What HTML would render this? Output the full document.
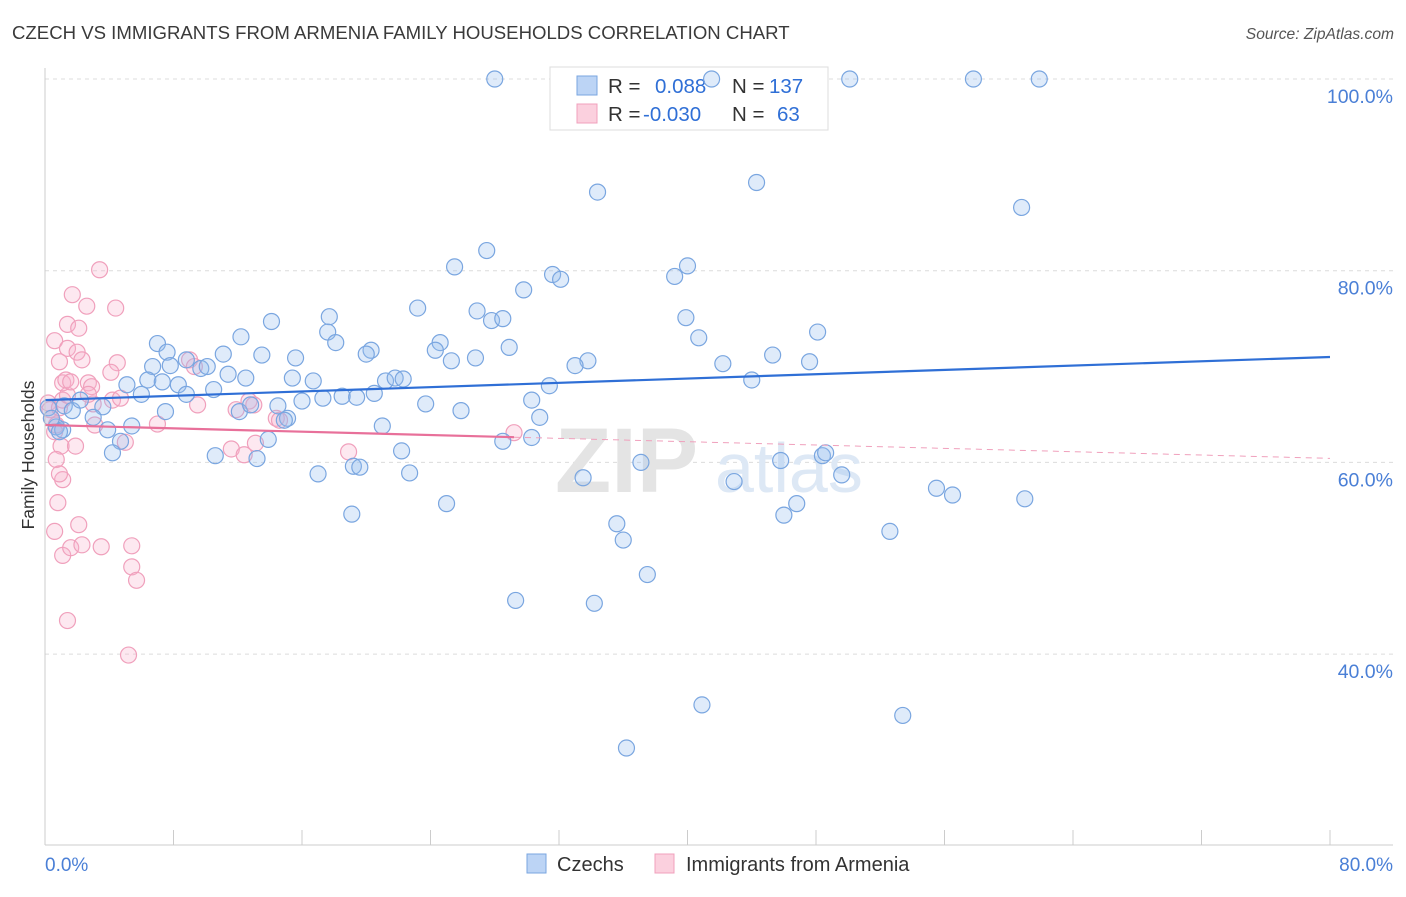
<!DOCTYPE html>
<html><head><meta charset="utf-8">
<style>
body{margin:0;background:#fff;font-family:"Liberation Sans",sans-serif;}
svg text{font-family:"Liberation Sans",sans-serif;}
</style></head>
<body>
<svg id="chart" width="1406" height="892" xmlns="http://www.w3.org/2000/svg">
<text x="12" y="39" font-size="18.6" fill="#3a3a3a">CZECH VS IMMIGRANTS FROM ARMENIA FAMILY HOUSEHOLDS CORRELATION CHART</text>
<text x="1394" y="39" font-size="15.6" fill="#555" font-style="italic" text-anchor="end">Source: ZipAtlas.com</text>
<g id="grid"></g>
<g><text x="555" y="492" font-size="92" fill="#e4e4e4" font-family="Liberation Serif" font-weight="bold">ZIP</text><text x="715" y="492" font-size="70" fill="#dde8f5">atlas</text></g>
<g>
<rect x="550" y="67" width="278" height="63" fill="#fff" stroke="#ddd"/>
<rect x="577" y="76" width="20" height="19" fill="#bcd4f5" stroke="#7aa6e0"/>
<rect x="577" y="104" width="20" height="19" fill="#fbd0de" stroke="#f0a0bc"/>
<text x="608" y="93" font-size="20.5" fill="#333">R = </text><text x="655" y="93" font-size="20.5" fill="#2f6fd6">0.088</text>
<text x="732" y="93" font-size="20.5" fill="#333">N = </text><text x="769" y="93" font-size="20.5" fill="#2f6fd6">137</text>
<text x="608" y="121" font-size="20.5" fill="#333">R = </text><text x="643" y="121" font-size="20.5" fill="#2f6fd6">-0.030</text>
<text x="732" y="121" font-size="20.5" fill="#333">N = </text><text x="777" y="121" font-size="20.5" fill="#2f6fd6">63</text>
</g>
<g id="pts-pink"></g>
<g id="pts-blue"></g>
<g id="lines"></g>
<g id="axes"></g>
<text transform="translate(34,455) rotate(-90)" font-size="17.5" fill="#333" text-anchor="middle">Family Households</text>
<g>
<rect x="527" y="854" width="19" height="19" fill="#bcd4f5" stroke="#7aa6e0"/>
<text x="557" y="871" font-size="20" fill="#333">Czechs</text>
<rect x="655" y="854" width="19" height="19" fill="#fbd0de" stroke="#f0a0bc"/>
<text x="686" y="871" font-size="20" fill="#333">Immigrants from Armenia</text>
</g>
</svg>
<script>
const yTicks=[100,80,60,40];
const yTickLabels=["100.0%","80.0%","60.0%","40.0%"];
const xTickLabels=["0.0%","80.0%"];
const blueX=[28.0,41.5,50.1,57.8,61.9,34.4,44.3,60.8,27.5,25.5,40.0,39.2,31.6,32.1,29.8,23.2,26.9,27.8,28.5,39.9,14.1,17.7,17.6,48.1,7.0,12.2,40.7,18.1,24.6,28.9,7.6,8.8,13.5,11.1,15.6,20.3,20.0,24.3,26.8,25.3,33.8,33.0,45.3,47.6,42.2,6.7,7.8,9.7,10.1,11.4,12.5,6.4,7.3,8.3,10.5,15.4,16.7,21.2,21.8,22.3,5.1,8.8,6.0,17.3,18.5,19.4,20.5,31.4,44.0,3.6,1.2,1.7,3.0,7.5,14.5,16.0,15.1,23.7,25.9,30.3,30.8,12.1,12.8,0.7,1.1,3.9,5.4,4.7,4.2,13.9,21.0,22.2,28.5,30.3,14.9,10.6,13.2,17.0,22.7,19.2,19.6,37.1,45.8,48.4,48.6,33.5,42.9,49.6,55.5,56.5,61.0,46.8,46.0,25.0,19.1,35.6,36.0,52.6,37.5,29.3,34.2,40.9,53.4,36.2,0.2,0.4,0.9,2.2];
const blueY=[100,100,100,100,100,88.2,89.2,86.6,82.1,80.4,80.5,79.4,79.6,79.1,78.0,76.1,75.8,74.8,75.0,75.1,74.7,75.2,73.6,73.6,72.4,73.1,73.0,72.5,72.5,72.0,71.5,70.7,71.2,71.3,70.9,71.7,71.3,71.7,70.9,70.6,70.6,70.1,71.2,70.5,70.3,70.0,70.1,69.8,70.0,69.2,68.8,68.6,68.4,68.1,67.6,68.8,68.5,68.5,68.8,68.7,68.1,67.1,67.1,66.7,66.9,66.8,67.2,68.0,68.6,65.8,65.9,65.4,64.7,65.3,65.9,66.4,64.6,66.1,65.4,66.5,64.7,65.3,66.0,63.7,63.4,63.4,63.8,62.2,61.0,62.4,63.8,61.2,62.2,62.6,64.4,60.7,60.4,58.8,58.9,59.6,59.5,60.0,60.2,60.7,61.0,58.4,58.0,58.7,57.3,56.6,56.2,55.7,54.5,55.7,54.6,53.6,51.9,52.8,48.3,45.6,45.3,34.7,33.6,30.2,65.7,64.6,63.2,66.5];
const pinkX=[0.2,0.3,0.4,0.7,0.6,0.9,1.1,1.4,1.1,1.3,1.6,0.9,0.6,1.4,2.0,2.3,1.4,2.1,1.7,2.6,3.4,4.4,1.0,0.7,1.1,0.9,0.8,0.6,1.9,2.1,1.1,1.6,2.3,3.5,5.4,5.4,5.7,1.4,5.2,2.7,2.9,3.0,3.1,4.2,4.5,4.1,4.7,9.0,9.3,9.5,7.0,11.9,11.6,12.4,12.7,13.0,13.1,14.4,14.6,18.9,29.2,5.0,2.7];
const pinkY=[66.2,65.5,64.6,63.9,63.2,65.7,66.5,67.0,68.3,68.6,68.4,70.5,72.7,71.9,71.5,70.7,74.4,74.0,77.5,76.3,80.1,76.1,61.7,60.3,58.2,58.8,55.8,52.8,61.7,53.5,50.3,51.1,51.4,51.2,51.3,49.1,47.7,43.5,39.9,68.3,67.9,66.1,63.9,66.5,70.4,69.4,66.7,70.7,70.0,66.0,64.0,65.5,61.4,60.8,66.4,66.0,62.0,64.6,64.4,61.1,63.1,62.1,67.1];
const blueTrend=[66.5,0.05625];
const pinkTrend=[63.9,-0.0435];
const pinkSolidEnd=29.2;

const NS="http://www.w3.org/2000/svg";
const X=v=>45+v*(1330-45)/80;
const Y=v=>79+(100-v)*9.585;
function mk(tag,attrs,parent){const e=document.createElementNS(NS,tag);for(const k in attrs)e.setAttribute(k,attrs[k]);parent.appendChild(e);return e;}
const grid=document.getElementById('grid');
yTicks.forEach((t,i)=>{
  const l=mk('line',{x1:45,x2:1393,y1:Y(t),y2:Y(t),stroke:'#dcdcdc','stroke-dasharray':'4,4'},grid);
  
  
  const tx=mk('text',{x:1393,y:Y(t)+24,'font-size':19.5,fill:'#4a7fd6','text-anchor':'end'},grid);
  tx.textContent=yTickLabels[i];
  
  
});
const axes=document.getElementById('axes');
mk('line',{x1:45,x2:45,y1:68,y2:845,stroke:'#ccc'},axes);
mk('line',{x1:45,x2:1393,y1:845,y2:845,stroke:'#ccc'},axes);
for(let i=0;i<=10;i++){const l=mk('line',{x1:X(i*8),x2:X(i*8),y1:830,y2:845,stroke:'#ccc'},axes);
  
  }
const xl0=mk('text',{x:45,y:871,'font-size':19,fill:'#4a7fd6'},axes);xl0.textContent=xTickLabels[0];


const xl1=mk('text',{x:1393,y:871,'font-size':19,fill:'#4a7fd6','text-anchor':'end'},axes);xl1.textContent=xTickLabels[1];


const pp=document.getElementById('pts-pink');
pinkX.forEach((v,i)=>{const c=mk('circle',{cx:X(v),cy:Y(pinkY[i]),r:8,fill:'rgba(248,180,205,0.3)',stroke:'#f0a0bc','stroke-width':1.2},pp);
  
  });
const bp=document.getElementById('pts-blue');
blueX.forEach((v,i)=>{const c=mk('circle',{cx:X(v),cy:Y(blueY[i]),r:8,fill:'rgba(150,188,238,0.3)',stroke:'#7aa6e0','stroke-width':1.2},bp);
  
  });
const ln=document.getElementById('lines');
const bl=mk('line',{x1:X(0),y1:Y(blueTrend[0]),x2:X(80),y2:Y(blueTrend[0]+blueTrend[1]*80),stroke:'#2f6fd6','stroke-width':2.2},ln);


const pl=mk('line',{x1:X(0),y1:Y(pinkTrend[0]),x2:X(pinkSolidEnd),y2:Y(pinkTrend[0]+pinkTrend[1]*pinkSolidEnd),stroke:'#e8709a','stroke-width':2.2},ln);


const pd=mk('line',{x1:X(pinkSolidEnd),y1:Y(pinkTrend[0]+pinkTrend[1]*pinkSolidEnd),x2:X(80),y2:Y(pinkTrend[0]+pinkTrend[1]*80),stroke:'#f0a0bc','stroke-width':1,'stroke-dasharray':'6,5'},ln);


</script>
</body></html>
